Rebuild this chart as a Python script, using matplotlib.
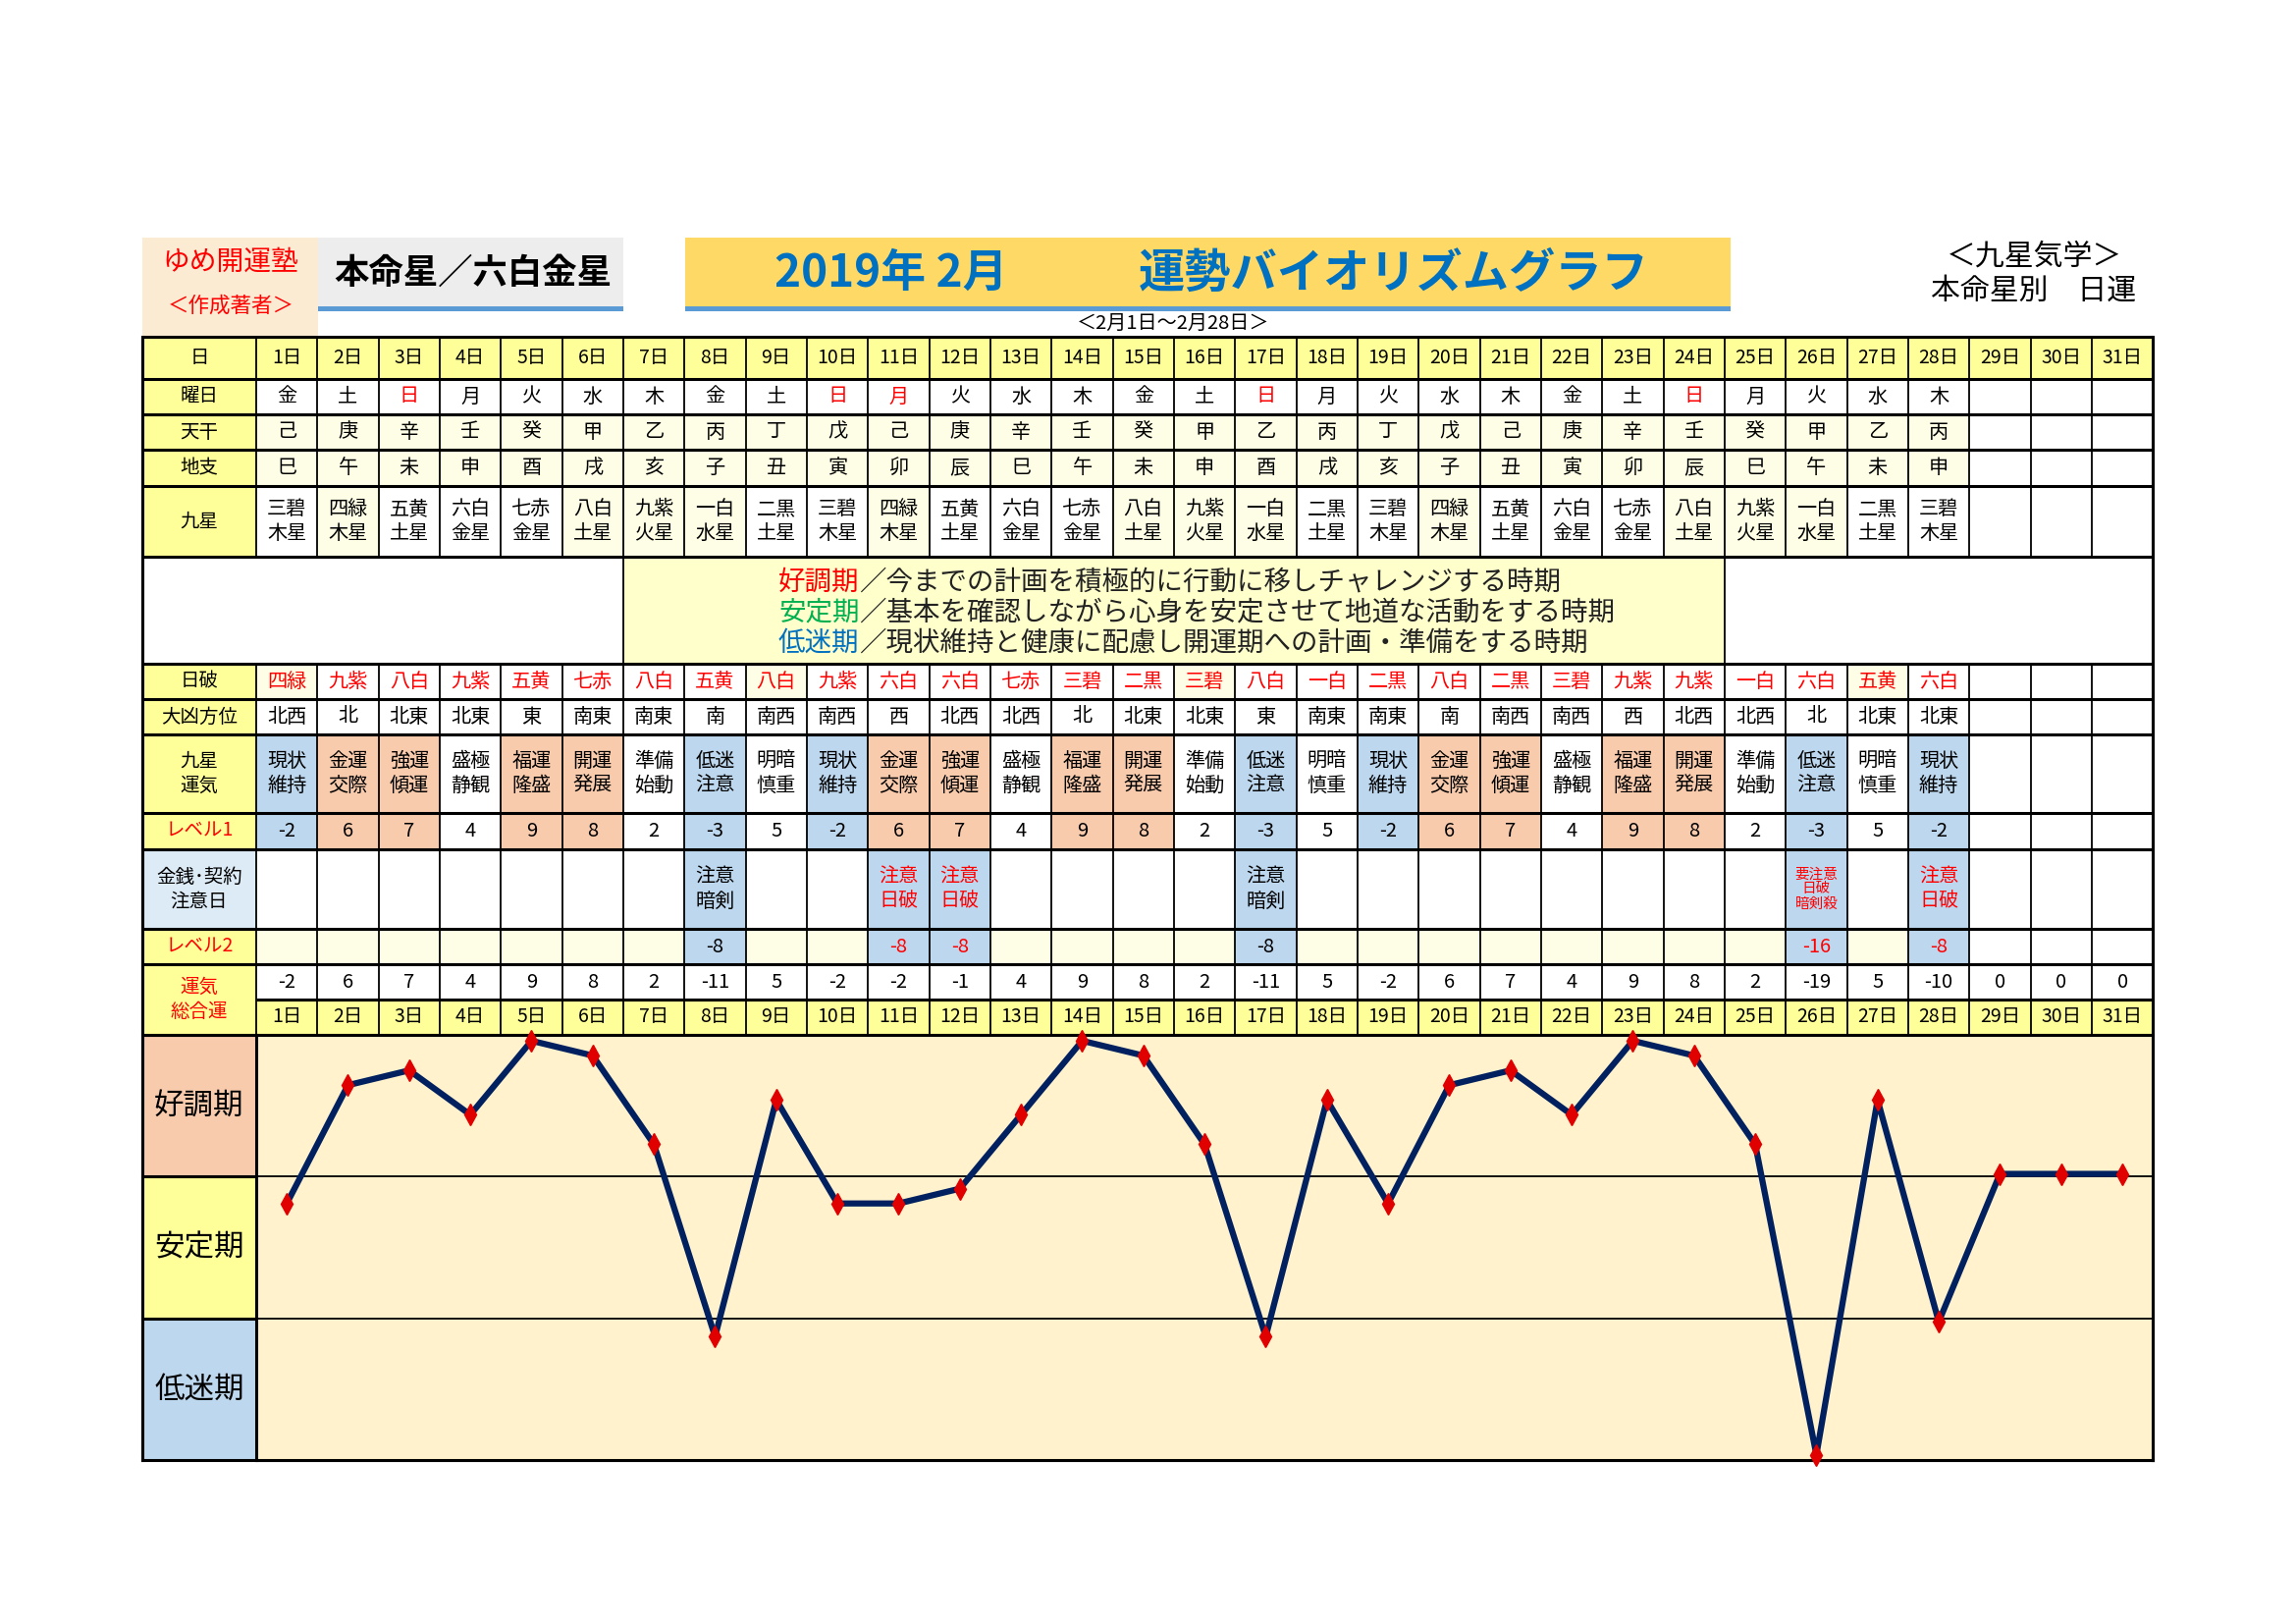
import matplotlib
matplotlib.use("Agg")
import matplotlib.pyplot as plt
from matplotlib.patches import Rectangle

plt.rcParams['font.family'] = ['Noto Sans CJK JP', 'DejaVu Sans']

# ---- data ----
days = list(range(1, 32))
day_labels = [f"{d}日" for d in days]
youbi = ["金", "土", "日", "月", "火", "水", "木"] * 4
youbi_red = [3, 10, 11, 17, 24]
tenkan = ["己", "庚", "辛", "壬", "癸", "甲", "乙", "丙", "丁", "戊"] * 2 + ["己", "庚", "辛", "壬", "癸", "甲", "乙", "丙"]
chishi = ["巳", "午", "未", "申", "酉", "戌", "亥", "子", "丑", "寅", "卯", "辰"] * 2 + ["巳", "午", "未", "申"]
kyusei = ["三碧木星", "四緑木星", "五黄土星", "六白金星", "七赤金星", "八白土星", "九紫火星",
          "一白水星", "二黒土星", "三碧木星", "四緑木星", "五黄土星", "六白金星", "七赤金星",
          "八白土星", "九紫火星", "一白水星", "二黒土星", "三碧木星", "四緑木星", "五黄土星",
          "六白金星", "七赤金星", "八白土星", "九紫火星", "一白水星", "二黒土星", "三碧木星"]
nippa = ["四緑", "九紫", "八白", "九紫", "五黄", "七赤", "八白", "五黄", "八白", "九紫",
         "六白", "六白", "七赤", "三碧", "二黒", "三碧", "八白", "一白", "二黒", "八白",
         "二黒", "三碧", "九紫", "九紫", "一白", "六白", "五黄", "六白"]
nippa_cream = [1, 9, 16, 27]
daikyo = ["北西", "北", "北東", "北東", "東", "南東", "南東", "南", "南西", "南西",
          "西", "北西", "北西", "北", "北東", "北東", "東", "南東", "南東", "南",
          "南西", "南西", "西", "北西", "北西", "北", "北東", "北東"]
unki = ["現状維持", "金運交際", "強運傾運", "盛極静観", "福運隆盛", "開運発展", "準備始動",
        "低迷注意", "明暗慎重", "現状維持", "金運交際", "強運傾運", "盛極静観", "福運隆盛",
        "開運発展", "準備始動", "低迷注意", "明暗慎重", "現状維持", "金運交際", "強運傾運",
        "盛極静観", "福運隆盛", "開運発展", "準備始動", "低迷注意", "明暗慎重", "現状維持"]
level1 = [-2, 6, 7, 4, 9, 8, 2, -3, 5, -2, 6, 7, 4, 9, 8, 2, -3, 5, -2, 6, 7, 4, 9, 8, 2, -3, 5, -2]
caution_days = [8, 11, 12, 17, 26, 28]
caution_text = ["注意\n暗剣", "注意\n日破", "注意\n日破", "注意\n暗剣", "要注意\n日破\n暗剣殺", "注意\n日破"]
caution_red = [False, True, True, False, True, True]
level2 = [-8, -8, -8, -8, -16, -8]
total = [-2, 6, 7, 4, 9, 8, 2, -11, 5, -2, -2, -1, 4, 9, 8, 2, -11, 5, -2, 6, 7, 4, 9, 8, 2,
         -19, 5, -10, 0, 0, 0]

# ---- colours ----
YEL = "#FFFF99"
CREAM = "#FEFEE6"
SALMON = "#F8CBAD"
LBLUE = "#BDD7EE"
RED = "#FF0000"
BLUE = "#0070C0"

fig = plt.figure(figsize=(23.39, 16.54), dpi=100)
ax = fig.add_axes([0, 0, 1, 1])
ax.set_xlim(0, 2339)
ax.set_ylim(1654, 0)
ax.axis("off")

L = 145
C0 = 261
W = 62.33
R = C0 + 31 * W
FS = 14.5


def box(x0, y0, x1, y1, fc):
    ax.add_patch(Rectangle((x0, y0), x1 - x0, y1 - y0, facecolor=fc, edgecolor="none", zorder=1))


def txt(x, y, s, size=FS, color="black", weight="normal", ha="center", ls=1.25):
    return ax.text(x, y, s, fontsize=size, color=color, fontweight=weight, ha=ha, va="center",
                   linespacing=ls, zorder=3)


def colx(i):
    return C0 + i * W


def colc(i):
    return C0 + (i + 0.5) * W


# ---- header ----
box(L, 242, 324, 342, "#FCEBD3")
txt(235, 267, "ゆめ開運塾", 20, RED)
txt(235, 312, "＜作成著者＞", 15.5, RED)
box(324, 242, 635, 312, "#EDEDED")
box(324, 312, 635, 317, "#5B9BD5")
txt(482, 278, "本命星／六白金星", 25.5, weight="bold")
box(698, 242, 1763, 312, "#FFD966")
box(698, 312, 1763, 317, "#5B9BD5")
txt(908, 279, "2019年 2月", 33, BLUE, weight="bold")
txt(1420, 279, "運勢バイオリズムグラフ", 34, BLUE, weight="bold")
txt(1195, 329, "＜2月1日～2月28日＞", 14.5)
txt(2072, 261, "＜九星気学＞", 21.5)
txt(2072, 296, "本命星別　日運", 21.5)

# ---- rows ----
rows = {
    "day": (343, 386), "youbi": (386, 422), "tenkan": (422, 458), "chishi": (458, 495),
    "kyusei": (495, 567), "desc": (567, 676), "nippa": (676, 712), "daikyo": (712, 748),
    "unki": (748, 828), "lv1": (828, 865), "caution": (865, 946), "lv2": (946, 982),
    "total": (982, 1018), "day2": (1018, 1054),
}


def rc(key):
    a, b = rows[key]
    return (a + b) / 2


# label column
for key in ["day", "youbi", "tenkan", "chishi", "kyusei", "nippa", "daikyo", "unki", "lv1", "lv2"]:
    box(L, rows[key][0], C0, rows[key][1], YEL)
box(L, rows["caution"][0], C0, rows["caution"][1], "#DDEBF7")
box(L, rows["total"][0], C0, rows["day2"][1], YEL)
box(colx(6), rows["desc"][0], colx(24), rows["desc"][1], "#FFFFCC")

labels = [("day", "日", "black"), ("youbi", "曜日", "black"), ("tenkan", "天干", "black"),
          ("chishi", "地支", "black"), ("kyusei", "九星", "black"), ("nippa", "日破", "black"),
          ("daikyo", "大凶方位", "black"), ("unki", "九星\n運気", "black"), ("lv1", "レベル1", RED),
          ("caution", "金銭･契約\n注意日", "black"), ("lv2", "レベル2", RED)]
for key, s, c in labels:
    txt((L + C0) / 2, rc(key), s, 14, c)
txt((L + C0) / 2, (rows["total"][0] + rows["day2"][1]) / 2, "運気\n総合運", 14, RED)

for i, d in enumerate(days):
    x0, x1, xc = colx(i), colx(i + 1), colc(i)
    box(x0, rows["day"][0], x1, rows["day"][1], YEL)
    box(x0, rows["day2"][0], x1, rows["day2"][1], YEL)
    txt(xc, rc("day"), day_labels[i], 14)
    txt(xc, rc("day2"), day_labels[i], 14)
    txt(xc, rc("total"), str(total[i]), FS)
    if d > len(level1):
        continue
    k = i
    txt(xc, rc("youbi"), youbi[k], FS, RED if d in youbi_red else "black")
    box(x0, rows["tenkan"][0], x1, rows["chishi"][1], CREAM)
    txt(xc, rc("tenkan"), tenkan[k])
    txt(xc, rc("chishi"), chishi[k])
    if kyusei[k][:2] in ("四緑", "八白", "九紫", "一白"):
        box(x0, rows["kyusei"][0], x1, rows["kyusei"][1], CREAM)
    txt(xc, rc("kyusei"), kyusei[k][:2] + "\n" + kyusei[k][2:])
    if d in nippa_cream:
        box(x0, rows["nippa"][0], x1, rows["nippa"][1], CREAM)
    txt(xc, rc("nippa"), nippa[k], FS, RED)
    txt(xc, rc("daikyo"), daikyo[k])
    lv = level1[k]
    fc = SALMON if lv >= 6 else (LBLUE if lv < 0 else "white")
    box(x0, rows["unki"][0], x1, rows["lv1"][1], fc)
    txt(xc, rc("unki"), unki[k][:2] + "\n" + unki[k][2:])
    txt(xc, rc("lv1"), str(lv))
    if d in caution_days:
        j = caution_days.index(d)
        box(x0, rows["caution"][0], x1, rows["lv2"][1], LBLUE)
        c = RED if caution_red[j] else "black"
        small = len(caution_text[j]) > 6
        txt(xc, rc("caution"), caution_text[j], 10.5 if small else FS, c, ls=1.1 if small else 1.25)
        txt(xc, rc("lv2"), str(level2[j]), FS, c)
    else:
        box(x0, rows["lv2"][0], x1, rows["lv2"][1], CREAM)

# description lines
desc = [("好調期", RED, "／今までの計画を積極的に行動に移しチャレンジする時期"),
        ("安定期", "#00B050", "／基本を確認しながら心身を安定させて地道な活動をする時期"),
        ("低迷期", BLUE, "／現状維持と健康に配慮し開運期への計画・準備をする時期")]
for (head, col, rest), y in zip(desc, [593, 624, 655]):
    t = ax.text(793, y, head, fontsize=19.8, color=col, ha="left", va="center", zorder=3)
    ax.annotate(rest, xy=(1, 0.5), xycoords=t, fontsize=19.8, color="#222222",
                ha="left", va="center", zorder=3)

# grid lines
HL = 2.2
VL = 1.3
bounds = sorted({v for ab in rows.values() for v in ab})
for y in bounds:
    xs = C0 if y == rows["day2"][0] else L
    ax.plot([xs, R], [y, y], color="black", lw=HL, zorder=4, solid_capstyle="butt")
for i in range(32):
    x = colx(i)
    ax.plot([x, x], [rows["day"][0], rows["kyusei"][1]], color="black", lw=VL, zorder=4)
    ax.plot([x, x], [rows["nippa"][0], rows["day2"][1]], color="black", lw=VL, zorder=4)
for x in [L, colx(6), colx(24), R]:
    ax.plot([x, x], [rows["desc"][0], rows["desc"][1]], color="black", lw=VL, zorder=4)
ax.plot([L, L], [rows["day"][0], 1487], color="black", lw=HL, zorder=4)
ax.plot([R, R], [rows["day"][0], 1487], color="black", lw=HL, zorder=4)

# ---- chart ----
top, bot = 1054, 1487
third = (bot - top) / 3
bands = [("好調期", SALMON), ("安定期", YEL), ("低迷期", LBLUE)]
for n, (name, fc) in enumerate(bands):
    y0 = top + n * third
    box(L, y0, C0, y0 + third, fc)
    txt((L + C0) / 2, y0 + third / 2, name, 22)
    ax.plot([L, C0], [y0, y0], color="black", lw=HL, zorder=4)
ax.plot([L, R], [bot, bot], color="black", lw=HL, zorder=4)

cax = fig.add_axes([C0 / 2339, (1654 - bot) / 1654, (R - C0) / 2339, (bot - top) / 1654])
cax.set_facecolor("#FFF2CC")
ylo, yhi = -19.35, 9.4
cax.set_xlim(0.5, 31.5)
cax.set_ylim(ylo, yhi)
for f in (1 / 3, 2 / 3):
    cax.axhline(ylo + (yhi - ylo) * f, color="black", lw=1.3, zorder=1)
cax.plot(days, total, color="#002060", lw=4.5, marker="d", markersize=11,
         markerfacecolor="#E00000", markeredgecolor="#E00000", zorder=3, clip_on=False)
cax.set_xticks([])
cax.set_yticks([])
for s in cax.spines.values():
    s.set_linewidth(HL)
    s.set_color("black")

fig.savefig("out.png", dpi=100)
